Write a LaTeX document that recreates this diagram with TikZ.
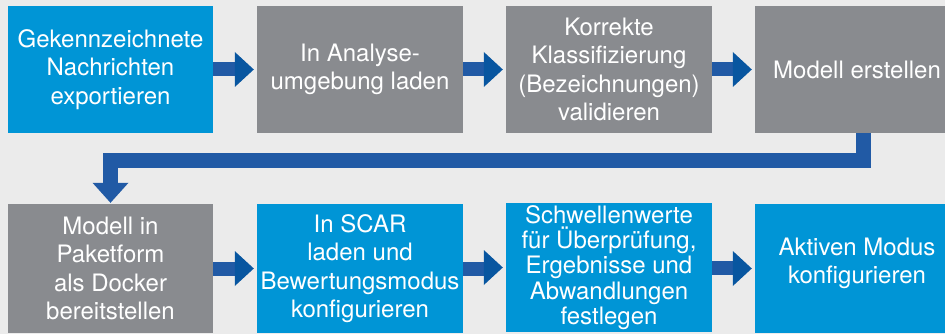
\documentclass[tikz,border=0pt]{standalone}
\usepackage{fontspec}
\setmainfont{TeX Gyre Heros}
\usetikzlibrary{calc}
\definecolor{bg}{RGB}{235,235,235}
\definecolor{bluebox}{RGB}{0,149,214}
\definecolor{graybox}{RGB}{137,139,143}
\definecolor{shaftc}{RGB}{33,90,165}
\definecolor{headc}{RGB}{8,86,160}
\begin{document}
\begin{tikzpicture}[x=1pt,y=-1pt,
  box/.style={rectangle, inner sep=0pt, text=white, align=center,
    font=\fontsize{24}{28.5}\selectfont, minimum height=127pt},
  bbox/.style={box, fill=bluebox},
  gbox/.style={box, fill=graybox},
  shaft/.style={fill=shaftc},
  head/.style={fill=headc},
  conn/.style={draw=shaftc, line width=15pt, line join=miter, line cap=butt}]
\useasboundingbox (0,0) rectangle (945,334);
\fill[bg] (0,0) rectangle (945,334);
\begin{scope}
\clip (0,0) rectangle (945,334);
% top row
\node[bbox, minimum width=205pt] (b1) at (110.5,69.5) {Gekennzeichnete\\Nachrichten\\exportieren};
\node[gbox, minimum width=206pt] (b2) at (360,69.5) {In Analyse-\\umgebung laden};
\node[gbox, minimum width=206pt] (b3) at (609,69.5) {Korrekte\\Klassifizierung\\(Bezeichnungen)\\validieren};
\node[gbox, minimum width=204pt] (b4) at (857,69.5) {Modell erstellen};
% bottom row
\node[gbox, minimum width=205pt, minimum height=129pt] (b5) at (110.5,268.5) {Modell in\\Paketform\\als Docker\\bereitstellen};
\node[bbox, minimum width=206pt, minimum height=129pt] (b6) at (360,268.5) {In SCAR\\laden und\\Bewertungsmodus\\konfigurieren};
\node[bbox, minimum width=206pt, minimum height=129pt, font=\fontsize{24}{25.3}\selectfont] (b7) at (609,267.5) {Schwellenwerte\\für Überprüfung,\\Ergebnisse und\\Abwandlungen\\festlegen};
\node[bbox, minimum width=204pt, minimum height=129pt] (b8) at (857,268.5) {};
\node[text=white, align=center, font=\fontsize{24}{28.5}\selectfont, inner sep=0pt] (t8) at ($(b8.center)+(0,-5)$) {Aktiven Modus\\konfigurieren};
% horizontal arrows
\foreach \a/\b in {b1/b2,b2/b3,b3/b4,b5/b6,b6/b7,b7/b8}{
  \fill[shaft] ($(\a.east)+(0,-7)$) rectangle ($(\a.east)+(23,7)$);
  \fill[head] ($(\b.west)+(-22,-17.5)$) -- ($(\b.west)+(-3,0)$) -- ($(\b.west)+(-22,17.5)$) -- cycle;
}
% elbow connector
\draw[conn] ($(b4.south)+(6,0)$) -- ($(b4.south)+(6,27.5)$) -| ($(b5.north)+(0,-20.5)$);
\fill[fill=shaftc] ($(b5.north)+(-18,-21)$) -- ($(b5.north)+(0,-1)$) -- ($(b5.north)+(18,-21)$) -- cycle;
\end{scope}
\end{tikzpicture}
\end{document}
